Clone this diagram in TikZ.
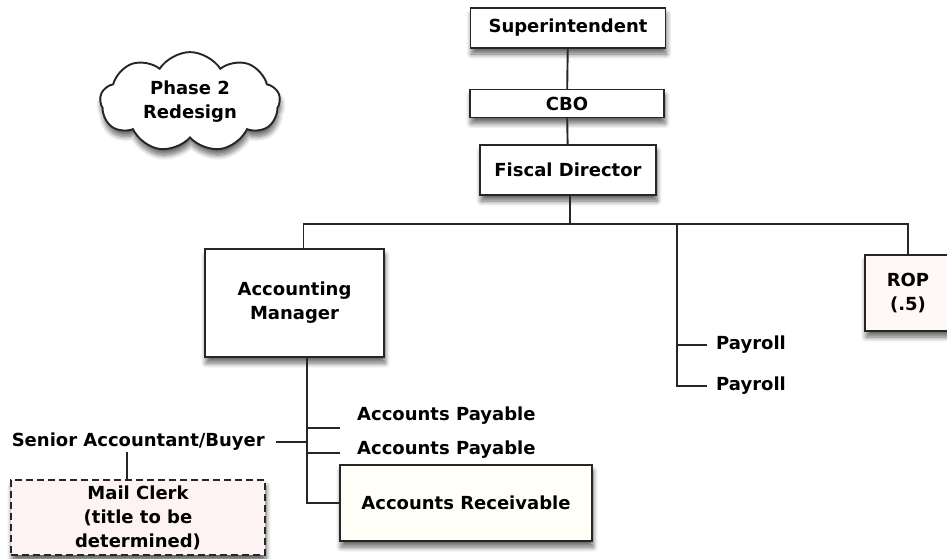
\documentclass[tikz,border=0pt]{standalone}
\usepackage{fontspec}
\setmainfont{DejaVu Sans}
\usetikzlibrary{shapes.symbols,shadows.blur,positioning}
\definecolor{ivorybox}{HTML}{FFFFF8}
\definecolor{pinkbox}{HTML}{FFF8F6}
\definecolor{clerkbox}{HTML}{FCF3F2}
\tikzset{
    orgnode/.style = {
        align=center,
        text centered,
        font=\bfseries\fontsize{18}{24}\selectfont,
        rectangle,
        draw=black!85,
        line width=1.9pt,
        fill=white,
        blur shadow={shadow xshift=1pt, shadow yshift=-6pt, shadow blur steps=8, shadow blur radius=5pt, shadow opacity=60},
        inner sep=1mm,
        outer sep=0mm
    },
    orglabel/.style = {
        font=\bfseries\fontsize{18}{24}\selectfont,
        inner sep=1pt
    },
    orgline/.style = {
        draw=black!85,
        line width=1.9pt
    },
    clerknode/.style = {
        orgnode,
        dash pattern=on 7pt off 4pt,
        fill=clerkbox
    },
    phasecloud/.style = {
        orgnode,
        cloud,
        cloud puffs=9,
        cloud puff arc=115,
        aspect=1.8
    }
}
\begin{document}
\begin{tikzpicture}[x=1pt,y=-1pt]
    \useasboundingbox (0,0) rectangle (947,558);
    \node [phasecloud, minimum width=180pt, minimum height=98pt] (phase) at (190,102) {Phase 2\\Redesign};
    \node [orgnode, minimum width=195pt, minimum height=40pt] (super) at (568,28) {Superintendent};
    \node [orgnode, minimum width=194pt, minimum height=28pt] (cbo) at (567,103.5) {CBO};
    \node [orgnode, minimum width=176pt, minimum height=50pt] (fiscal) at (568,170) {Fiscal Director};
    \node [orgnode, minimum width=179pt, minimum height=108pt] (accmgr) at (294.5,303) {Accounting\\Manager};
    \node [orgnode, fill=pinkbox, minimum width=86pt, minimum height=76pt] (rop) at (908,293) {ROP\\(.5)};
    \node [orglabel, anchor=west] (payroll1) at (715,345) {Payroll};
    \node [orglabel, anchor=west] (payroll2) at (715,386) {Payroll};
    \node [orglabel, anchor=west] (payable1) at (356,416) {Accounts Payable};
    \node [orglabel, anchor=west] (payable2) at (356,450) {Accounts Payable};
    \node [orglabel, anchor=east] (senior) at (266,442) {Senior Accountant/Buyer};
    \node [orgnode, fill=ivorybox, minimum width=252pt, minimum height=76pt] (accrec) at (466,503) {Accounts Receivable};
    \node [clerknode, minimum width=254pt, minimum height=75pt] (clerk) at (138,517.5) {Mail Clerk\\(title to be\\determined)};

    \coordinate (bus) at (570,224);
    \coordinate (paybus) at (677,224);
    \coordinate (amfoot) at ([xshift=12.5pt]accmgr.south);
    \draw [orgline] (super) -- (cbo);
    \draw [orgline] (cbo) -- (fiscal);
    \draw [orgline] ([xshift=2pt]fiscal.south) -- (bus);
    \draw [orgline] ([xshift=9pt]accmgr.north) |- (bus) -| (rop.north);
    \draw [orgline] (paybus) |- ([xshift=-8pt]payroll1.west);
    \draw [orgline] (paybus) |- ([xshift=-8pt]payroll2.west);
    \draw [orgline] (amfoot) |- (accrec.west);
    \draw [orgline] (amfoot) |- ([xshift=-16pt,yshift=-12pt]payable1.west);
    \draw [orgline] (amfoot) |- ([xshift=-16pt,yshift=-3pt]payable2.west);
    \draw [orgline] ([xshift=10pt]senior.east) -- (senior.east -| amfoot);
    \draw [orgline] ([xshift=-11pt]clerk.north) -- ([xshift=-11pt]clerk.north |- senior.south);
\end{tikzpicture}
\end{document}
